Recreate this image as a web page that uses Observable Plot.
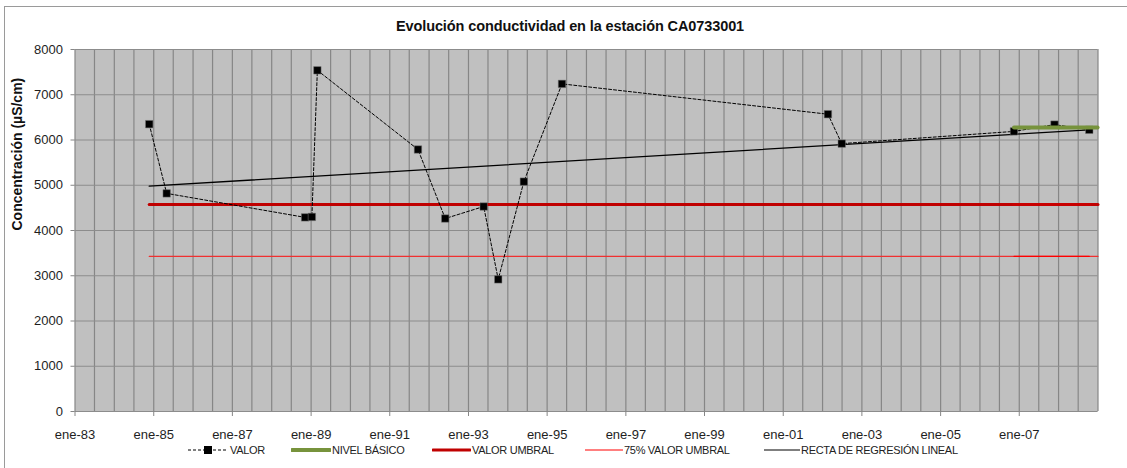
<!DOCTYPE html>
<html>
<head>
<meta charset="utf-8">
<script src="https://cdn.jsdelivr.net/npm/d3@7"></script>
<script src="https://cdn.jsdelivr.net/npm/@observablehq/plot@0.6"></script>
<style>
  html, body { margin: 0; padding: 0; background: #fff; }
  body { width: 1127px; height: 468px; overflow: hidden; position: relative; font-family: "Liberation Sans", Arial, sans-serif; }
  #border { position: absolute; left: 4px; top: 6px; width: 1200px; height: 500px; border-top: 1px solid #9a9a9a; border-left: 1px solid #9a9a9a; pointer-events: none; }
  #title { position: relative; height: 40px; }
  #title span { position: absolute; left: 570px; top: 18px; transform: translateX(-50%); font-weight: bold; font-size: 14.5px; letter-spacing: -0.1px; color: #111; white-space: nowrap; line-height: 17px; }
  #chart { height: 404px; }
  #legend { position: relative; height: 24px; font-size: 11px; letter-spacing: -0.3px; color: #222; }
  #legend .t { position: absolute; top: 0px; line-height: 12px; white-space: nowrap; }
  #legend svg { position: absolute; top: 0px; }
</style>
</head>
<body>
<div id="border"></div>
<div id="title"><span>Evolución conductividad en la estación CA0733001</span></div>
<div id="chart"></div>
<div id="legend"></div>
<script>
// ---- data ----
const fechas = ["1984-11-20", "1985-05-01", "1988-11-06", "1989-01-08", "1989-02-28", "1991-09-20", "1992-05-30", "1993-05-22", "1993-10-04", "1994-05-30", "1995-05-19", "2002-02-20", "2002-06-28", "2006-11-13", "2007-11-24", "2008-10-12"];
const valor = [6350, 4820, 4290, 4300, 7540, 5790, 4265, 4530, 2920, 5080, 7240, 6570, 5920, 6190, 6340, 6225];

const umbralFechas = ["1984-11-20", "2009-01-01"];
const umbralTramoFechas = ["2006-11-13", "2008-10-12"];
const valorUmbral = 4575;
const valorUmbral75 = 3430;

const basicoFechas = ["2006-11-13", "2008-12-28"];
const nivelBasico = 6275;

const regresionFechas = ["1984-11-20", "2008-10-12"];
const regresion = [4980, 6225];

const xTickFechas = ["1983-01-01", "1985-01-01", "1987-01-01", "1989-01-01", "1991-01-01", "1993-01-01", "1995-01-01", "1997-01-01", "1999-01-01", "2001-01-01", "2003-01-01", "2005-01-01", "2007-01-01"];
const yTicks = [0, 1000, 2000, 3000, 4000, 5000, 6000, 7000, 8000];
const xDominio = ["1983-01-01", "2009-01-01"];

const yLabel = "Concentración (µS/cm)";
const legendItems = ["VALOR", "NIVEL BÁSICO", "VALOR UMBRAL", "75% VALOR UMBRAL", "RECTA DE REGRESIÓN LINEAL"];

// ---- build ----
const D = s => new Date(s + "T00:00:00Z");
const serie = fechas.map((f, i) => ({x: D(f), y: valor[i]}));
const lineaUmbral = umbralFechas.map(f => ({x: D(f), y: valorUmbral}));
const tramoUmbral = umbralTramoFechas.map(f => ({x: D(f), y: valorUmbral}));
const lineaUmbral75 = umbralFechas.map(f => ({x: D(f), y: valorUmbral75}));
const tramoUmbral75 = umbralTramoFechas.map(f => ({x: D(f), y: valorUmbral75}));
const lineaBasico = basicoFechas.map(f => ({x: D(f), y: nivelBasico}));
const lineaRegresion = regresionFechas.map((f, i) => ({x: D(f), y: regresion[i]}));
const gridX = d3.utcMonth.every(6).range(D(xDominio[0]), d3.utcDay.offset(D(xDominio[1]), 1));

const chart = Plot.plot({
  width: 1127,
  height: 404,
  marginLeft: 74.5,
  marginRight: 29.5,
  marginTop: 9,
  marginBottom: 33,
  x: {type: "utc", domain: xDominio.map(D)},
  y: {domain: [0, 8000]},
  style: {fontFamily: "'Liberation Sans', Arial, sans-serif", fontSize: "13px", color: "#1e1e1e", background: "transparent"},
  marks: [
    Plot.frame({fill: "#C0C0C0", stroke: null}),
    Plot.ruleX(gridX, {stroke: "#868686", strokeWidth: 1.2}),
    Plot.ruleY(yTicks, {stroke: "#8c8c8c", strokeWidth: 1.2}),
    Plot.axisX({ticks: xTickFechas.map(D), tickFormat: d => "ene-" + String(d.getUTCFullYear()).slice(2), tickSize: 5, tickPadding: 13, stroke: "#868686", label: null}),
    Plot.axisY({ticks: yTicks, tickFormat: d => String(d), tickSize: 4, tickPadding: 8, stroke: "#868686", label: null}),
    Plot.text([yLabel], {frameAnchor: "left", rotate: -90, dx: -57, text: d => d, fontWeight: "bold", fontSize: 14, fill: "#111"}),
    Plot.line(lineaUmbral75, {x: "x", y: "y", stroke: "#F03030", strokeWidth: 1.3}),
    Plot.line(tramoUmbral75, {x: "x", y: "y", stroke: "#FF0000", strokeWidth: 1.3}),
    Plot.line(lineaUmbral, {x: "x", y: "y", stroke: "#C00000", strokeWidth: 3}),
    Plot.line(tramoUmbral, {x: "x", y: "y", stroke: "#C80000", strokeWidth: 3.2}),
    Plot.line(lineaRegresion, {x: "x", y: "y", stroke: "#000", strokeWidth: 1.3}),
    Plot.line(serie, {x: "x", y: "y", stroke: "#000", strokeWidth: 1, strokeDasharray: "3,2"}),
    Plot.dot(serie, {x: "x", y: "y", symbol: "square", r: 4.2, fill: "#000", stroke: "#777", strokeWidth: 0.5}),
    Plot.line(lineaBasico, {x: "x", y: "y", stroke: "#77933C", strokeWidth: 4, strokeLinecap: "round"})
  ]
});
document.getElementById("chart").appendChild(chart);

// ---- legend ----
const legend = document.getElementById("legend");
const swatches = [
  {x: 188, w: 40, t: 230, draw: `<line x1="0" y1="6" x2="40" y2="6" stroke="#000" stroke-width="1" stroke-dasharray="3,2"/><rect x="16" y="2" width="8" height="8" fill="#000"/>`},
  {x: 291, w: 40, t: 332, draw: `<line x1="1" y1="6" x2="39" y2="6" stroke="#77933C" stroke-width="4" stroke-linecap="round"/>`},
  {x: 432, w: 39, t: 472, draw: `<line x1="1" y1="6" x2="38" y2="6" stroke="#C00000" stroke-width="3" stroke-linecap="round"/>`},
  {x: 585, w: 38, t: 624, draw: `<line x1="0" y1="6" x2="38" y2="6" stroke="#FF0000" stroke-width="1.2"/>`},
  {x: 764, w: 36, t: 801, draw: `<line x1="0" y1="6" x2="36" y2="6" stroke="#000" stroke-width="1.2"/>`}
];
swatches.forEach((s, i) => {
  const svg = document.createElementNS("http://www.w3.org/2000/svg", "svg");
  svg.setAttribute("width", s.w); svg.setAttribute("height", 12);
  svg.style.left = s.x + "px";
  svg.innerHTML = s.draw;
  legend.appendChild(svg);
  const sp = document.createElement("span");
  sp.className = "t"; sp.style.left = s.t + "px"; sp.textContent = legendItems[i];
  legend.appendChild(sp);
});
</script>
</body>
</html>
